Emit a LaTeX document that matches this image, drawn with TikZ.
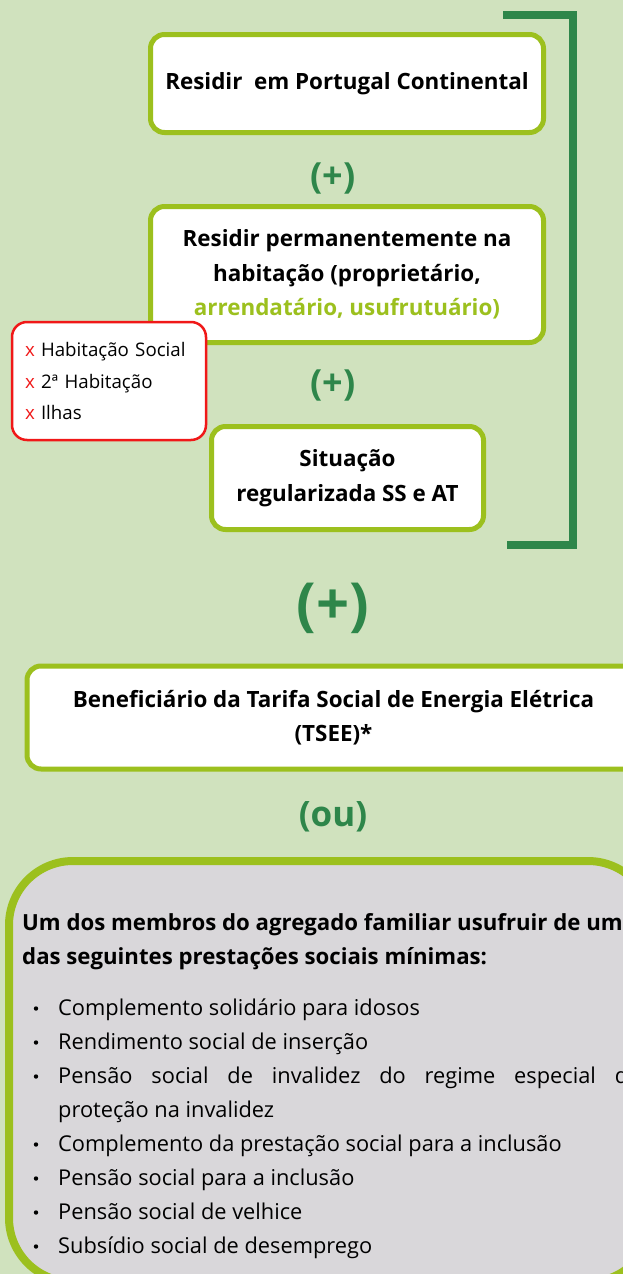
\documentclass[tikz,border=0pt]{standalone}
\usepackage{fontspec}
\setmainfont{Open Sans}
\definecolor{bg}{RGB}{208,226,190}
\definecolor{lime}{RGB}{156,192,30}
\definecolor{dkgreen}{RGB}{46,134,74}
\definecolor{xred}{RGB}{240,24,24}
\definecolor{panel}{RGB}{217,215,218}
\begin{document}
\begin{tikzpicture}[x=1pt,y=-1pt,
  box/.style={draw=lime, line width=5pt, fill=white, rounded corners=14pt, inner sep=0pt,
    align=center, font=\fontsize{22.4}{34.5}\selectfont\bfseries},
  plus/.style={text=dkgreen, inner sep=0pt, font=\bfseries\fontsize{36}{36}\selectfont},
  listtxt/.style={anchor=base west, inner sep=0pt, font=\fontsize{21.8}{34}\selectfont},
  headtxt/.style={anchor=base west, inner sep=0pt, font=\bfseries\fontsize{22.2}{34}\selectfont}]
\useasboundingbox (0,0) rectangle (623,1274);
\fill[bg] (0,0) rectangle (623,1274);
\begin{scope}
\clip (0,0) rectangle (623,1274);
% bracket
\coordinate (bt) at (503,15);
\coordinate (bb) at (507,545);
\draw[dkgreen, line width=7.5pt] (bt) -- ++(70,0) |- (bb);
% boxes
\node[box, minimum width=393pt, minimum height=98pt] (b1) at (347,83.5) {Residir\ \ em Portugal Continental};
\node[plus] (p1) at (333,178) {(+)};
\node[box, minimum width=393pt, minimum height=136pt] (b2) at (347,274.5)
  {Residir permanentemente na\\habitação (proprietário,\\\textcolor{lime}{arrendatário, usufrutuário)}};
\node[draw=xred, line width=2.5pt, fill=white, rounded corners=15pt, minimum width=194pt,
  minimum height=118pt, text width=168pt, inner xsep=13pt, inner ysep=0pt, align=left,
  font=\fontsize{18.7}{31.5}\selectfont] (rb) at (109,381)
  {\textcolor{xred}{x} Habitação Social\\\textcolor{xred}{x} 2ª Habitação\\\textcolor{xred}{x} Ilhas};
\node[plus] (p2) at (333,385) {(+)};
\node[box, minimum width=272pt, minimum height=103pt] (b3) at (347.5,478) {Situação\\regularizada SS e AT};
\node[plus, font=\bfseries\fontsize{58}{58}\selectfont] (p3) at (333,608.5) {(+)};
\node[box, minimum width=613pt, minimum height=103pt] (b4) at (333.5,717.5)
  {Beneficiário da Tarifa Social de Energia Elétrica\\(TSEE)*};
\node[plus, font=\bfseries\fontsize{35}{35}\selectfont] (p4) at (333,817) {(ou)};
\node[draw=lime, line width=8pt, fill=panel, rounded corners=64pt, minimum width=643pt,
  minimum height=421pt] (b5) at (330.5,1071.5) {};
\node[headtxt] (h1) at (22,930) {Um dos membros do agregado familiar usufruir de um};
\node[headtxt] (h2) at (22,964) {das seguintes prestações sociais mínimas:};
\node[listtxt] (l1) at (58,1015) {Complemento solidário para idosos};
\node[listtxt] (l2) at (58,1049) {Rendimento social de inserção};
\node[listtxt] (l3) at (58,1083) {\makebox[570pt][s]{Pensão social de invalidez do regime especial d}};
\node[listtxt] (l3b) at (58,1117) {proteção na invalidez};
\node[listtxt] (l4) at (58,1151) {Complemento da prestação social para a inclusão};
\node[listtxt] (l5) at (58,1185) {Pensão social para a inclusão};
\node[listtxt] (l6) at (58,1219) {Pensão social de velhice};
\node[listtxt] (l7) at (58,1253) {Subsídio social de desemprego};
\foreach \y in {1015,1049,1083,1151,1185,1219,1253}
  \fill (36,\y-6.5) circle (2.2pt);
\end{scope}
\end{tikzpicture}
\end{document}
